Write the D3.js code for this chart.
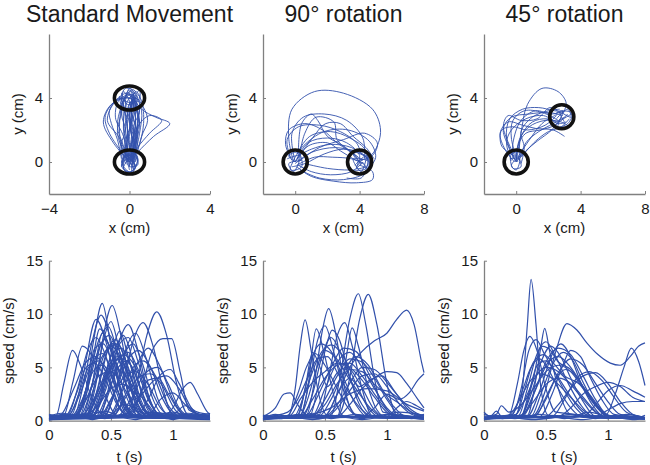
<!DOCTYPE html>
<html>
<head>
<meta charset="utf-8">
<script src="https://d3js.org/d3.v7.min.js"></script>
<style>
  body { margin: 0; background: #fff; }
  text { font-family: "Liberation Sans", Arial, sans-serif; fill: #1a1a1a; }
</style>
</head>
<body>
<script>
// Panel titles and tick labels
var panelTitles = ["Standard Movement", "90\u00b0 rotation", "45\u00b0 rotation"];
var topXDomains = [[-4, 4], [-2, 8], [-2, 8]];
var topXTicks = [[-4, 0, 4], [0, 4, 8], [0, 4, 8]];
var topYTicks = [0, 4];
var speedXTicks = [0, 0.5, 1];
var speedYTicks = [0, 5, 10, 15];

// Start and target circles (cm), radius 0.75 cm
var circleCenters = [
  [[0, 0], [0, 4]],
  [[0, 0], [4, 0]],
  [[0, 0], [2.83, 2.83]]
];
var circleRadius = 0.75;

// Hand trajectories, [x, y] in cm
var stdPaths = [
  [[0,0],[-0.2,1],[-0.3,2.5],[-0.1,3.8],[0.1,4.1],[0.3,3],[0.2,1.5],[0.05,0.1]],
  [[0.1,-0.2],[0.3,1.2],[0.4,2.8],[0.2,4.2],[-0.2,4.0],[-0.3,2.5],[-0.1,0.8],[0,-0.3]],
  [[0,0],[-0.8,1.2],[-1.3,2.5],[-0.9,3.6],[0,4],[0.4,3.2],[0.3,1.5],[0.1,0.2]],
  [[0,0.2],[0.3,1.5],[0.2,3.6],[0,4.3],[0.6,3.3],[1.3,2.8],[2.0,2.4],[1.2,1.6],[0.4,0.6],[0,0]],
  [[-0.1,0],[-0.5,1.5],[-1.1,2.6],[-0.7,3.8],[-0.1,4.3],[0.2,3.5],[0,2],[-0.2,0.5],[-0.1,-0.2]],
  [[0.2,0],[0.5,1.8],[0.6,3.2],[0.3,4.0],[0,3.6],[-0.1,2.0],[0.1,0.3]],
  [[0,-0.5],[-0.3,1],[-0.6,2.2],[-0.4,3.5],[0,4.5],[0.2,4.0],[0.5,2.5],[0.3,1],[0.1,-0.4]],
  [[-0.2,0.1],[0,1.6],[0.1,3],[0.4,4.2],[0.6,3.8],[0.7,2.4],[0.4,0.8],[-0.1,0]],
  [[0.1,0.3],[-0.1,2],[-0.3,3.6],[-0.5,4.1],[-0.4,3.2],[-0.6,1.8],[-0.2,0.5],[0.2,0]],
  [[0,0],[-1.0,1.8],[-1.2,2.9],[-0.6,3.9],[0.1,3.9],[-0.2,2.6],[-0.1,1.0],[0,-0.3]],
  [[0.3,0.1],[0.6,1.6],[0.9,2.6],[0.7,3.4],[0.3,4],[0.0,3.2],[0.2,1.8],[0.3,0.5]],
  [[-0.3,-0.2],[-0.2,1.3],[0.1,2.6],[0,3.8],[-0.3,4.4],[-0.4,3.6],[-0.5,2.2],[-0.4,0.6],[-0.3,-0.4]],
  [[0.1,-0.6],[0.2,1.0],[0.0,2.5],[0.2,3.9],[0.5,4.5],[0.5,3.5],[0.4,2.0],[0.3,0.6],[0.2,-0.5]],
  [[0,0.4],[0.4,2.2],[1.0,2.9],[1.6,2.6],[1.0,1.8],[0.4,0.9],[0,0]],
  [[-0.4,0.2],[-0.6,1.4],[-0.9,2.4],[-1.0,3.2],[-0.5,4.0],[-0.2,3.0],[-0.1,1.5],[-0.3,0.1]],
  [[0.2,0.2],[0.1,1.2],[0.3,2.2],[0.1,3.2],[0.2,4.3],[0.0,4.6],[-0.2,3.8],[0,2.4],[0.2,0.8],[0.2,0]],
  [[-0.2,-0.1],[-0.4,1.1],[-0.2,2.0],[-0.4,3.0],[-0.2,4.1],[0.1,4.4],[0.3,3.4],[0.1,2.2],[0.3,1.0],[0,-0.2]],
  [[0.4,0],[0.2,1.4],[0.5,2.4],[0.3,3.5],[0.5,4.1],[0.3,4.4],[0.1,3.1],[0.4,1.7],[0.1,0.5],[0.3,-0.3]],
  [[-0.1,0.2],[-0.3,1.6],[-0.7,2.8],[-0.5,3.9],[0.1,4.2],[0.0,3.0],[0.1,1.6],[-0.1,0.3]],
  [[0.1,0],[0.4,1.2],[0.2,2.2],[0.5,3.2],[0.2,3.9],[-0.1,3.3],[0.2,2.0],[0,0.6],[0.1,-0.2]],
  [[0,0],[0.2,-0.5],[-0.2,-0.6],[-0.3,0.2],[0.3,0.5],[0.4,-0.2],[0,-0.3]],
  [[-0.4,-0.3],[-0.2,0.4],[0.4,0.2],[0.1,-0.6],[-0.3,-0.4],[0.2,0.6]],
  [[0.3,-0.4],[-0.1,0.5],[-0.4,0],[0.1,-0.7],[0.4,0.3],[0,0.7]],
  [[-0.2,0.3],[0.3,-0.2],[0,-0.7],[-0.4,-0.2],[0.2,0.4],[0.3,0]],
  [[0,4],[0.3,4.4],[-0.2,4.6],[-0.4,4.0],[0.2,3.7],[0.4,4.1]],
  [[-0.3,3.8],[0.1,4.5],[0.4,3.9],[-0.1,3.6],[-0.4,4.3]]
];

var rot90Paths = [
  [[-0.1,0],[-0.4,1.5],[-0.2,3.3],[1.2,4.4],[3.0,4.3],[4.8,3.3],[5.3,2.0],[5.0,0.8],[4.4,0.1]],
  [[0,0],[-0.2,1.8],[0.5,2.8],[1.8,3.0],[3.2,2.6],[4.2,1.5],[4.3,0.2]],
  [[0.1,0.2],[0.8,1.2],[2.0,1.5],[3.2,1.2],[4.0,0.4],[3.8,-0.3]],
  [[4.2,0],[3.5,-0.6],[2.2,-0.8],[1.0,-0.6],[0.2,-0.2]],
  [[0,-0.1],[1.0,0.6],[2.5,0.9],[3.8,0.6],[4.6,0.1],[4.3,-0.7],[3.0,-1.1],[1.5,-1.0],[0.3,-0.5]],
  [[-0.3,0.3],[-0.5,1.4],[0.2,2.2],[1.5,2.3],[2.8,1.9],[3.8,1.2],[4.1,0.5]],
  [[0.2,0],[0.6,1.8],[1.3,2.8],[2.4,2.5],[2.6,1.4],[3.5,0.6],[4.2,0.1]],
  [[0,0.3],[0.5,1.0],[1.8,1.9],[3.3,2.0],[4.6,1.3],[5.0,0.3],[4.5,-0.5]],
  [[4.0,-0.2],[4.8,-0.6],[4.8,-1.1],[3.8,-1.3],[2.4,-1.2],[1.0,-0.9],[0.1,-0.3]],
  [[0.1,-0.2],[1.2,0.3],[2.3,0.3],[3.5,0.2],[4.3,-0.1]],
  [[-0.2,0.1],[-0.6,1.1],[-0.4,2.0],[0.6,2.4],[1.7,2.0],[2.6,1.2],[3.7,0.4],[4.1,-0.2]],
  [[0,0],[1.0,1.4],[1.9,2.4],[2.8,2.4],[3.6,1.6],[4.4,0.9],[4.9,0.2]],
  [[0.3,0.1],[1.5,0.9],[3.0,1.4],[4.3,1.8],[5.1,1.2],[4.8,0.4],[4.0,0.1]],
  [[4.4,0.3],[3.5,0.9],[2.2,1.1],[1.0,0.8],[0.2,0.4]],
  [[0.2,0.4],[0.4,2.4],[1.0,3.0],[1.4,2.6],[2.0,1.6],[3.0,1.0],[3.9,0.3]],
  [[0,0],[0.8,1.0],[2.0,1.2],[2.8,0.7],[3.6,0.2],[4.4,-0.3],[4.1,-1.0],[3.2,-1.0]],
  [[-0.2,-0.3],[0.6,-0.1],[1.8,0.5],[3.0,0.8],[4.2,0.5],[4.7,-0.2]],
  [[0.1,0.5],[0.9,1.6],[2.2,1.9],[3.4,1.5],[4.4,0.7],[4.4,-0.4],[3.4,-0.5],[2.0,-0.4],[0.6,-0.1]],
  [[0,0],[-0.4,0.4],[0.2,0.6],[0.4,-0.3],[-0.3,-0.5],[0,0.3]],
  [[-0.5,0.2],[0.3,0.4],[-0.1,-0.6],[-0.4,-0.1],[0.4,0.1]],
  [[4,0],[3.6,0.5],[4.3,0.6],[4.5,-0.2],[3.8,-0.4],[4.2,0.2]],
  [[3.7,-0.2],[4.4,0.4],[4.1,-0.6],[3.6,0.2],[4.5,0.1]]
];

var rot45Paths = [
  [[0,0],[0.3,1.8],[0.7,3.6],[1.6,4.6],[2.6,4.4],[3.1,3.7],[2.9,3.0]],
  [[0,0],[-0.5,1.0],[-0.8,2.1],[-0.3,2.8],[0.8,3.0],[2.0,3.1],[2.9,2.9]],
  [[0.1,0],[-0.3,1.5],[-0.2,2.6],[0.5,3.2],[1.6,3.1],[2.6,2.6]],
  [[0,0.2],[0.2,1.4],[0.8,2.2],[1.8,2.6],[2.8,2.5],[3.3,2.2]],
  [[-0.1,0],[-0.7,0.8],[-1.0,1.8],[-0.5,2.5],[0.4,2.3],[1.2,2.1],[2.3,2.0],[3.0,1.6]],
  [[0.2,0.1],[0.6,1.2],[1.4,1.9],[2.3,2.4],[3.0,2.8]],
  [[2.8,2.8],[2.2,2.0],[1.3,1.3],[0.6,0.7],[0.1,0.1]],
  [[0,0],[-0.6,1.5],[-0.4,2.7],[0.4,3.3],[1.4,3.4],[2.4,3.2],[3.4,3.1],[3.5,2.6]],
  [[0.3,-0.1],[0.5,0.9],[0.3,1.9],[1.0,2.8],[2.0,3.2],[2.7,3.3]],
  [[0,0.3],[-0.9,1.0],[-0.9,2.0],[-0.2,2.2],[0.7,2.0],[1.8,2.3],[2.5,2.9]],
  [[-0.2,0.2],[-0.2,1.2],[0.3,2.6],[1.2,3.2],[2.2,3.0],[3.0,3.2]],
  [[0.1,0.3],[0.9,1.5],[1.6,2.4],[2.2,2.8],[2.6,3.0]],
  [[-0.1,0.4],[-0.8,2.2],[-0.5,2.9],[0.3,2.6],[1.3,2.7],[2.1,3.4],[2.8,3.0]],
  [[0.3,0.3],[1.2,1.3],[2.0,1.9],[2.8,2.2],[3.3,2.7]],
  [[0,0.1],[0.1,1.0],[0.6,1.8],[1.5,2.0],[2.4,2.3],[3.2,3.0]],
  [[-0.3,0.1],[-0.6,1.2],[-0.3,2.0],[0.6,2.7],[1.7,2.9],[2.6,2.4],[3.1,2.5]],
  [[0.2,0.4],[0.3,1.6],[1.0,2.5],[1.9,2.7],[2.5,2.5]],
  [[2.8,2.6],[3.5,3.0],[3.2,2.4],[2.6,2.2],[2.9,3.2],[2.4,3.0]],
  [[2.5,2.7],[3.2,3.3],[3.4,2.8],[2.7,3.1],[3.0,2.5]],
  [[0,0],[0.3,0.6],[-0.3,0.5],[-0.2,-0.4],[0.3,-0.3],[0.1,0.4]],
  [[-0.4,0.2],[0.2,0.2],[0,-0.5],[-0.3,-0.2],[0.4,0.5]]
];

// Speed profiles, [t (s), speed (cm/s)]
var stdSpeeds = [
  [[0,0.3],[0.22,0.3],[0.3,3],[0.36,7.5],[0.43,11.0],[0.5,7],[0.58,2.5],[0.68,0.4],[1.3,0.3]],
  [[0,0.2],[0.3,0.5],[0.38,3.5],[0.44,8],[0.51,10.8],[0.58,8],[0.66,3],[0.75,0.5],[1.3,0.2]],
  [[0,0.1],[0.2,0.4],[0.28,3.5],[0.35,7.5],[0.42,9.9],[0.5,7.5],[0.58,3],[0.68,0.5],[1.3,0.1]],
  [[0,0.3],[0.18,0.5],[0.27,4],[0.38,9.5],[0.47,7],[0.55,3],[0.65,0.6],[1.3,0.3]],
  [[0,0.1],[0.6,0.3],[0.7,3],[0.79,8],[0.87,10.2],[0.95,8],[1.03,3.5],[1.12,0.6],[1.3,0.3]],
  [[0,0.2],[0.5,0.4],[0.6,3.5],[0.68,7.5],[0.76,9.2],[0.84,7],[0.92,3],[1.0,0.5],[1.3,0.2]],
  [[0,0.2],[0.4,0.3],[0.5,4],[0.57,7.5],[0.64,9.0],[0.72,6.5],[0.8,2.5],[0.9,0.4],[1.3,0.2]],
  [[0,0.3],[0.65,0.4],[0.75,3],[0.83,6.5],[0.92,7.7],[0.99,7.7],[1.06,4.5],[1.13,1],[1.3,0.3]],
  [[0,0.2],[0.9,0.3],[1.0,1.2],[1.08,3],[1.14,3.6],[1.2,2.5],[1.28,0.8],[1.3,0.6]],
  [[0,0.2],[0.06,0.5],[0.12,3.5],[0.19,6.6],[0.26,5],[0.35,2],[0.45,0.4],[1.3,0.2]],
  [[0,0.3],[0.12,0.5],[0.19,3.5],[0.27,7.0],[0.35,6],[0.45,2.5],[0.55,0.5],[1.3,0.3]],
  [[0,0.2],[0.25,0.5],[0.33,4],[0.41,8.6],[0.5,6.5],[0.6,2],[0.7,0.4],[1.3,0.2]],
  [[0,0.3],[0.35,0.4],[0.44,3.5],[0.52,7],[0.57,8.4],[0.64,6],[0.73,2],[0.82,0.4],[1.3,0.3]],
  [[0,0.2],[0.45,0.5],[0.55,3.5],[0.63,7],[0.7,8.2],[0.78,6],[0.88,2],[0.98,0.4],[1.3,0.2]],
  [[0,0.2],[0.2,0.4],[0.3,3],[0.4,7.5],[0.48,8.8],[0.56,6],[0.66,2],[0.76,0.3],[1.3,0.2]],
  [[0,0.3],[0.28,0.5],[0.36,3],[0.46,6.5],[0.55,7.2],[0.64,5],[0.74,1.5],[0.84,0.4],[1.3,0.3]],
  [[0,0.2],[0.15,0.4],[0.25,2.5],[0.35,5.5],[0.43,6.3],[0.52,4],[0.62,1],[0.72,0.3],[1.3,0.2]],
  [[0,0.4],[0.3,0.6],[0.4,2.5],[0.5,5],[0.6,6.2],[0.7,5],[0.8,2],[0.9,0.5],[1.3,0.3]],
  [[0,0.2],[0.5,0.3],[0.62,2.5],[0.72,5.5],[0.8,6.8],[0.9,5],[1.0,2],[1.1,0.5],[1.3,0.3]],
  [[0,0.3],[0.7,0.4],[0.8,2],[0.9,4.3],[0.98,4.8],[1.05,3.5],[1.15,1.2],[1.22,0.4],[1.3,0.3]],
  [[0,0.2],[0.32,0.4],[0.42,3],[0.5,6],[0.58,6.8],[0.66,5.2],[0.74,2],[0.84,0.4],[1.3,0.2]],
  [[0,0.3],[0.22,0.5],[0.3,2.5],[0.38,6],[0.45,7.6],[0.53,5.8],[0.62,2.4],[0.72,0.5],[1.3,0.3]],
  [[0,0.2],[0.38,0.4],[0.47,2.5],[0.56,5],[0.63,5.6],[0.71,4],[0.8,1.2],[0.9,0.3],[1.3,0.2]],
  [[0,0.3],[0.42,0.4],[0.52,2.5],[0.62,5.4],[0.72,6.6],[0.82,5],[0.92,2],[1.02,0.5],[1.3,0.3]],
  [[0,0.2],[0.18,0.4],[0.27,2],[0.35,4.5],[0.42,5.2],[0.5,3.5],[0.58,1],[0.66,0.3],[1.3,0.2]],
  [[0,0.3],[0.26,0.4],[0.36,2],[0.46,4.2],[0.56,4.8],[0.66,3.5],[0.76,1.2],[0.86,0.4],[1.3,0.3]],
  [[0,0.2],[0.55,0.4],[0.66,2],[0.78,4.5],[0.88,5.0],[0.96,3.5],[1.05,1.2],[1.14,0.4],[1.3,0.2]],
  [[0,0.3],[0.3,0.5],[0.38,4],[0.45,8],[0.5,9.3],[0.56,7],[0.64,2.5],[0.72,0.4],[1.3,0.3]],
  [[0,0.2],[0.35,0.4],[0.45,3],[0.53,6.5],[0.6,8],[0.67,6],[0.76,2],[0.85,0.4],[1.3,0.2]],
  [[0,0.3],[0.15,0.5],[0.23,3],[0.31,6.5],[0.38,7.8],[0.46,6],[0.55,2.5],[0.64,0.5],[1.3,0.3]],
  [[0,0.2],[0.48,0.4],[0.58,2.5],[0.68,5],[0.76,5.6],[0.86,4.2],[0.96,1.5],[1.06,0.4],[1.3,0.2]],
  [[0,0.3],[0.6,0.5],[0.72,2],[0.85,3.8],[0.95,4.2],[1.05,3],[1.15,1],[1.25,0.5],[1.3,0.4]],
  [[0,0.2],[0.2,0.4],[0.32,2.5],[0.42,5.8],[0.5,7.0],[0.6,5.5],[0.7,3],[0.8,1.5],[0.9,0.3],[1.3,0.2]],
  [[0,0.4],[0.25,0.5],[0.35,3.5],[0.43,8.2],[0.52,6],[0.62,3.5],[0.7,2.5],[0.8,0.6],[1.3,0.4]],
  [[0,0.2],[0.4,0.3],[0.5,2],[0.6,4],[0.7,4.6],[0.8,3.4],[0.9,1.2],[1.0,0.3],[1.3,0.2]],
  [[0,0.3],[0.8,0.5],[0.9,2],[1.0,2.6],[1.1,1.5],[1.2,0.6],[1.3,0.5]],
  [[0,0.2],[0.1,0.6],[0.2,3],[0.3,5.5],[0.38,6],[0.46,4.5],[0.56,1.5],[0.66,0.3],[1.3,0.2]],
  [[0,0.3],[0.35,0.5],[0.46,3],[0.56,7],[0.64,7.8],[0.72,5.5],[0.82,1.8],[0.92,0.3],[1.3,0.3]],
  [[0,0.5],[0.3,0.6],[0.4,1.5],[0.5,3],[0.6,3.4],[0.7,2.2],[0.8,0.8],[1.3,0.5]],
  [[0,0.1],[0.5,0.6],[0.6,1.5],[0.7,1.2],[0.8,0.4],[1.0,0.6],[1.1,1.4],[1.2,0.8],[1.3,0.6]],
  [[0,0.4],[0.16,0.5],[0.24,2.5],[0.32,5],[0.4,5.6],[0.48,4.6],[0.58,2.2],[0.68,0.5],[1.3,0.4]],
  [[0,0.2],[0.3,0.3],[0.4,2.8],[0.48,5.2],[0.55,5.8],[0.62,4.2],[0.72,1.2],[0.82,0.3],[1.3,0.2]],
  [[0,0.3],[0.3,0.4],[0.38,2.5],[0.46,6.2],[0.53,7.3],[0.6,5.5],[0.7,2],[0.8,0.4],[1.3,0.3]],
  [[0,0.2],[0.22,0.4],[0.3,3],[0.37,6.8],[0.44,7.2],[0.52,5],[0.62,1.6],[0.72,0.3],[1.3,0.2]],
  [[0,0.4],[0.4,0.5],[0.48,2.5],[0.56,5.5],[0.64,6.4],[0.72,4.8],[0.82,1.6],[0.92,0.4],[1.3,0.3]],
  [[0,0.2],[0.27,0.4],[0.35,3.5],[0.42,7.2],[0.49,8.0],[0.56,6],[0.65,2.4],[0.75,0.5],[1.3,0.2]],
  [[0,0.3],[0.33,0.5],[0.42,2.5],[0.5,5],[0.58,5.8],[0.66,5.2],[0.74,3],[0.84,0.8],[1.3,0.3]],
  [[0,0.2],[0.14,0.5],[0.22,2.5],[0.3,5],[0.37,5.4],[0.45,4],[0.55,1.5],[0.65,0.3],[1.3,0.2]],
  [[0,0.3],[0.44,0.4],[0.54,3],[0.62,6.5],[0.68,7.2],[0.75,5.5],[0.84,2],[0.94,0.4],[1.3,0.3]],
  [[0,0.2],[0.36,0.4],[0.44,3],[0.5,5.5],[0.56,6],[0.63,4.4],[0.72,1.4],[0.82,0.3],[1.3,0.2]],
  [[0,0.3],[0.52,0.5],[0.62,2.2],[0.72,4],[0.82,4.4],[0.92,3.2],[1.02,1],[1.12,0.3],[1.3,0.3]],
  [[0,0.2],[0.3,0.5],[0.4,3.2],[0.48,6.8],[0.54,7.6],[0.6,6.2],[0.68,3.4],[0.78,0.8],[1.3,0.2]],
  [[0,0.3],[0.2,0.5],[0.3,2],[0.4,4.2],[0.5,4.6],[0.6,3.2],[0.7,1],[0.8,0.3],[1.3,0.3]],
  [[0,0.2],[0.62,0.4],[0.72,2],[0.8,3.8],[0.88,4],[0.96,2.6],[1.06,0.8],[1.16,0.3],[1.3,0.2]],
  [[0,0.6],[0.15,0.3],[0.3,0.7],[0.45,0.2],[0.6,0.6],[0.75,0.2],[0.9,0.7],[1.05,0.3],[1.2,0.6],[1.3,0.4]],
  [[0,0.1],[0.2,0.5],[0.35,0.1],[0.5,0.5],[0.7,0.1],[0.85,0.5],[1.0,0.1],[1.15,0.5],[1.3,0.2]],
  [[0,0.4],[0.1,0.7],[0.25,0.5],[0.4,0.8],[0.55,0.4],[0.7,0.9],[0.85,0.5],[1.0,0.8],[1.15,0.4],[1.3,0.7]],
  [[0,0.2],[0.12,0.6],[0.28,0.3],[0.45,0.9],[0.6,0.3],[0.78,0.7],[0.95,0.2],[1.12,0.7],[1.3,0.3]]
];

var rot90Speeds = [
  [[0,0.3],[0.2,0.4],[0.26,3],[0.3,7],[0.34,9.45],[0.39,6.5],[0.45,2.5],[0.52,0.5],[1.3,0.3]],
  [[0,0.2],[0.35,0.5],[0.42,4],[0.48,8.5],[0.53,10.5],[0.59,8],[0.66,3],[0.74,0.6],[1.3,0.2]],
  [[0,0.3],[0.55,0.5],[0.62,4],[0.7,9.5],[0.77,11.9],[0.83,9],[0.9,4],[0.97,0.8],[1.3,0.3]],
  [[0,0.2],[0.6,0.4],[0.7,4],[0.78,9.5],[0.85,11.85],[0.92,9],[1.0,3.5],[1.08,0.5],[1.3,0.2]],
  [[0,0.3],[0.5,0.5],[0.6,2.5],[0.7,5],[0.8,6.5],[0.9,7.5],[1.0,8.2],[1.08,9.5],[1.16,10.37],[1.22,9],[1.28,5.5],[1.3,4.5]],
  [[0,0.2],[0.3,0.4],[0.36,3],[0.43,8.6],[0.5,6],[0.58,2],[0.66,0.4],[1.3,0.2]],
  [[0,0.3],[0.45,0.5],[0.52,3.5],[0.6,8],[0.66,9.2],[0.72,7],[0.8,3],[0.88,0.5],[1.3,0.3]],
  [[0,0.2],[0.3,0.5],[0.38,4],[0.44,7.5],[0.5,8.9],[0.57,6.5],[0.66,2.5],[0.76,0.5],[1.3,0.2]],
  [[0,0.4],[0.1,1.2],[0.17,2.5],[0.22,2.6],[0.28,1.5],[0.36,0.5],[1.3,0.3]],
  [[0,0.2],[0.25,0.4],[0.35,3],[0.45,6],[0.55,7.1],[0.65,6],[0.75,3.5],[0.85,1.2],[0.95,0.3],[1.3,0.2]],
  [[0,0.3],[0.35,0.5],[0.45,2.5],[0.55,5],[0.65,6.8],[0.75,6.5],[0.85,4.5],[0.95,2],[1.05,0.5],[1.3,0.3]],
  [[0,0.2],[0.4,0.4],[0.5,2],[0.6,4.2],[0.7,5.8],[0.8,5.5],[0.9,4],[1.0,2],[1.1,0.6],[1.3,0.3]],
  [[0,0.3],[0.3,0.4],[0.4,2],[0.5,4],[0.6,5.2],[0.7,5.4],[0.8,4.2],[0.9,2.5],[1.0,1],[1.1,0.3],[1.3,0.2]],
  [[0,0.2],[0.5,0.4],[0.6,1.5],[0.7,3.5],[0.8,5],[0.9,4.8],[1.0,3.6],[1.1,2.2],[1.2,1],[1.3,0.4]],
  [[0,0.3],[0.28,0.6],[0.34,3],[0.4,6],[0.47,7.2],[0.55,6.5],[0.65,4],[0.75,1.5],[0.85,0.3],[1.3,0.2]],
  [[0,0.2],[0.2,0.5],[0.28,2.5],[0.35,5],[0.42,6.3],[0.5,5.2],[0.6,3],[0.7,1],[0.8,0.3],[1.3,0.2]],
  [[0,0.3],[0.4,0.5],[0.5,3],[0.6,5.5],[0.7,6.4],[0.8,5],[0.9,3],[1.0,1.2],[1.1,0.4],[1.3,0.3]],
  [[0,0.2],[0.6,0.4],[0.7,1.5],[0.8,3],[0.9,4],[1.0,4.6],[1.08,4.5],[1.16,3.5],[1.25,2],[1.3,1.2]],
  [[0,0.3],[0.8,0.4],[0.9,1.2],[1.0,2.5],[1.1,2.0],[1.18,2.6],[1.25,3.8],[1.3,4.4]],
  [[0,0.2],[0.32,0.4],[0.4,2.5],[0.48,6.2],[0.55,7.8],[0.62,6.5],[0.7,4],[0.8,1.5],[0.9,0.3],[1.3,0.2]],
  [[0,0.3],[0.22,0.5],[0.3,2],[0.4,3.6],[0.5,4.6],[0.6,5.4],[0.7,5],[0.8,3.8],[0.9,2.2],[1.0,0.8],[1.1,0.3],[1.3,0.2]],
  [[0,0.2],[0.45,0.4],[0.55,2],[0.65,4.5],[0.75,6],[0.85,5.2],[0.95,3.2],[1.05,1.4],[1.15,0.4],[1.3,0.3]],
  [[0,0.3],[0.3,0.5],[0.36,2],[0.43,4.8],[0.5,6.6],[0.58,6],[0.68,4.2],[0.78,2.5],[0.88,1],[0.98,0.3],[1.3,0.2]],
  [[0,0.2],[0.5,0.3],[0.6,1.2],[0.7,2.8],[0.8,4.2],[0.9,4.4],[1.0,3.2],[1.1,1.6],[1.2,0.6],[1.3,0.3]],
  [[0,0.4],[0.4,0.5],[0.5,1.5],[0.6,3.5],[0.7,4.8],[0.8,4.6],[0.9,3.4],[1.0,2.4],[1.1,1.6],[1.2,0.8],[1.3,0.4]],
  [[0,0.2],[0.38,0.5],[0.44,3],[0.5,6.5],[0.56,8.5],[0.62,7.5],[0.68,5],[0.76,2],[0.86,0.4],[1.3,0.2]],
  [[0,0.3],[0.6,0.4],[0.62,1],[0.64,3],[0.68,6.5],[0.72,8.7],[0.77,7],[0.84,3.5],[0.92,1],[1.0,0.3],[1.3,0.2]],
  [[0,0.2],[1.0,0.4],[1.08,1.2],[1.16,1.8],[1.24,1.4],[1.3,1.0]],
  [[0,0.3],[0.2,0.8],[0.28,2],[0.36,4],[0.44,5.8],[0.52,6],[0.6,4.5],[0.7,2.5],[0.8,1],[0.9,0.3],[1.3,0.2]],
  [[0,0.2],[0.5,0.4],[0.6,2.5],[0.7,4],[0.78,3.2],[0.86,3.8],[0.96,4.2],[1.06,2.8],[1.16,1.2],[1.26,0.4],[1.3,0.3]],
  [[0,0.5],[0.2,0.4],[0.4,0.6],[0.55,1.2],[0.7,2.5],[0.85,3],[1.0,2.8],[1.15,1.6],[1.3,0.9]],
  [[0,0.1],[0.28,0.4],[0.34,3],[0.4,6.4],[0.46,5],[0.52,3.2],[0.6,4.5],[0.68,5],[0.78,3.5],[0.9,1],[1.0,0.3],[1.3,0.2]],
  [[0,0.5],[0.15,0.2],[0.3,0.6],[0.45,0.2],[0.6,0.5],[0.8,0.2],[1.0,0.6],[1.15,0.3],[1.3,0.6]],
  [[0,0.2],[0.1,0.6],[0.25,0.3],[0.4,0.7],[0.55,0.2],[0.75,0.6],[0.9,0.3],[1.1,0.8],[1.3,0.5]],
  [[0,0.1],[0.2,0.4],[0.4,0.1],[0.6,0.4],[0.8,0.1],[1.0,0.4],[1.2,0.2],[1.3,0.3]]
];

var rot45Speeds = [
  [[0,0.3],[0.25,0.5],[0.31,3],[0.35,9],[0.38,13.25],[0.42,9],[0.46,3],[0.52,0.5],[1.3,0.3]],
  [[0,0.2],[0.2,0.5],[0.27,3.5],[0.32,6.5],[0.37,7.9],[0.43,6.5],[0.5,3],[0.58,0.8],[1.3,0.2]],
  [[0,0.3],[0.35,0.5],[0.42,4],[0.46,7],[0.49,8.66],[0.53,6.5],[0.6,3],[0.7,0.6],[1.3,0.3]],
  [[0,0.2],[0.4,0.5],[0.5,3],[0.58,6.5],[0.67,9.1],[0.75,8.5],[0.83,7.3],[0.92,6.2],[1.02,5.4],[1.1,5.2],[1.18,6],[1.25,7],[1.3,7.3]],
  [[0,0.3],[0.7,0.4],[0.85,0.8],[0.98,0.5],[1.06,2.5],[1.13,5],[1.19,6.8],[1.25,5.5],[1.3,3.3]],
  [[0,0.2],[0.28,0.5],[0.35,3],[0.42,6],[0.5,7.4],[0.58,6],[0.68,3.5],[0.78,1.5],[0.88,0.4],[1.3,0.2]],
  [[0,0.3],[0.3,0.4],[0.4,2.5],[0.5,5.5],[0.6,6.8],[0.7,6.2],[0.8,4.2],[0.9,2],[1.0,0.5],[1.3,0.3]],
  [[0,0.2],[0.4,0.4],[0.5,2],[0.6,4.5],[0.7,5.8],[0.8,5.2],[0.9,3.5],[1.0,1.8],[1.1,0.6],[1.3,0.3]],
  [[0,0.3],[0.22,0.5],[0.3,2.5],[0.38,5],[0.45,5.8],[0.52,4.8],[0.6,3],[0.7,1.2],[0.8,0.3],[1.3,0.2]],
  [[0,0.2],[0.32,0.5],[0.42,3],[0.52,5.5],[0.6,6],[0.7,5],[0.8,3.2],[0.9,1.5],[1.0,0.4],[1.3,0.2]],
  [[0,0.3],[0.45,0.4],[0.55,2.5],[0.63,5],[0.7,6.6],[0.78,6],[0.86,4],[0.95,2],[1.05,0.6],[1.3,0.3]],
  [[0,0.2],[0.5,0.4],[0.6,1.5],[0.7,3],[0.8,4.2],[0.9,4.5],[1.0,3.5],[1.1,1.8],[1.2,0.6],[1.3,0.3]],
  [[0,0.3],[0.25,0.5],[0.33,2],[0.42,4.2],[0.5,5],[0.6,4.6],[0.7,3.4],[0.8,2],[0.9,0.8],[1.0,0.3],[1.3,0.2]],
  [[0,0.2],[0.6,0.4],[0.7,1.2],[0.8,2.5],[0.9,3.2],[1.0,3.6],[1.1,3.2],[1.2,2.2],[1.3,1.8]],
  [[0,0.3],[0.3,0.5],[0.38,2.5],[0.46,5.5],[0.54,7.0],[0.62,6],[0.7,4],[0.8,1.8],[0.9,0.4],[1.3,0.2]],
  [[0,0.2],[0.38,0.4],[0.46,2.5],[0.55,5.2],[0.64,6.4],[0.72,5.6],[0.8,3.6],[0.9,1.5],[1.0,0.4],[1.3,0.2]],
  [[0,0.8],[0.05,0.4],[0.1,0.9],[0.15,0.3],[0.3,0.5],[0.4,1.8],[0.5,3.4],[0.6,4],[0.7,3.5],[0.8,2.2],[0.9,0.9],[1.0,0.3],[1.3,0.2]],
  [[0,0.3],[0.26,0.6],[0.33,3],[0.4,5.5],[0.48,6.2],[0.56,5.4],[0.65,4.2],[0.75,3.6],[0.85,2.5],[0.95,1],[1.05,0.3],[1.3,0.2]],
  [[0,0.2],[0.55,0.4],[0.65,2],[0.75,4],[0.85,4.6],[0.95,3.8],[1.05,2.2],[1.15,0.8],[1.3,0.3]],
  [[0,0.3],[0.2,0.5],[0.28,1.8],[0.36,3.5],[0.44,4.4],[0.52,4.2],[0.6,3.4],[0.7,2.2],[0.8,1],[0.9,0.3],[1.3,0.2]],
  [[0,0.2],[0.35,0.4],[0.45,2.8],[0.55,6.2],[0.62,7.2],[0.7,6],[0.78,3.6],[0.88,1.4],[0.98,0.3],[1.3,0.2]],
  [[0,0.3],[0.8,0.4],[0.9,1.5],[1.0,2.8],[1.1,3.3],[1.2,2.8],[1.3,2.2]],
  [[0,0.4],[0.1,0.6],[0.14,1.4],[0.2,0.8],[0.3,1.5],[0.4,3],[0.5,4.6],[0.6,5.2],[0.7,4.6],[0.8,3],[0.9,1.4],[1.0,0.4],[1.3,0.3]],
  [[0,0.2],[0.42,0.5],[0.5,2.2],[0.58,4],[0.66,4.8],[0.74,4.2],[0.82,2.8],[0.92,1.2],[1.02,0.3],[1.3,0.2]],
  [[0,0.3],[0.3,0.5],[0.4,4],[0.46,7],[0.52,6.8],[0.6,5.5],[0.7,4.8],[0.8,3.2],[0.9,1.6],[1.0,0.5],[1.3,0.3]],
  [[0,0.2],[0.9,0.4],[1.0,1],[1.1,1.6],[1.2,1.8],[1.3,1.8]],
  [[0,0.3],[0.23,0.6],[0.3,3],[0.36,6.5],[0.42,7.6],[0.49,6.2],[0.56,4.8],[0.64,3],[0.74,1.2],[0.84,0.3],[1.3,0.2]],
  [[0,0.2],[0.3,0.4],[0.36,2.5],[0.43,5.2],[0.5,5.6],[0.58,4.4],[0.68,2.6],[0.78,1],[0.88,0.3],[1.3,0.2]],
  [[0,0.6],[0.15,0.2],[0.3,0.5],[0.5,0.2],[0.7,0.6],[0.9,0.2],[1.05,0.5],[1.2,0.2],[1.3,0.5]],
  [[0,0.2],[0.1,0.5],[0.25,0.2],[0.45,0.6],[0.65,0.2],[0.85,0.5],[1.0,0.2],[1.15,0.6],[1.3,0.3]],
  [[0,0.1],[0.2,0.3],[0.4,0.1],[0.6,0.3],[0.8,0.1],[1.0,0.4],[1.2,0.1],[1.3,0.2]]
];

var allPaths = [stdPaths, rot90Paths, rot45Paths];
var allSpeeds = [stdSpeeds, rot90Speeds, rot45Speeds];

// Layout
var svgWidth = 650;
var svgHeight = 465;
var panelLeft = [49, 263, 484];
var panelWidth = 161;
var topRange = [194, 34];
var bottomRange = [420.7, 260.7];
var lineColor = "#3150ab";
var axisColor = "#808080";
var tickFormat = d3.format("");

var svg = d3.select("body")
  .append("svg")
  .attr("width", svgWidth)
  .attr("height", svgHeight);

function styleAxis(g) {
  g.select(".domain").attr("stroke", axisColor).attr("stroke-width", 1.3);
  g.selectAll(".tick line").attr("stroke", axisColor);
  g.selectAll(".tick text")
    .attr("fill", "#1a1a1a")
    .style("font-size", "15px")
    .style("font-family", "'Liberation Sans', Arial, sans-serif");
}

panelLeft.forEach(function(left, i) {
  var cx = left + panelWidth / 2;

  // ---------- top row: trajectories ----------
  var xScale = d3.scaleLinear().domain(topXDomains[i]).range([left, left + panelWidth]);
  var yScale = d3.scaleLinear().domain([-2, 8]).range(topRange);

  svg.append("g")
    .attr("transform", `translate(0, ${topRange[0]})`)
    .call(d3.axisBottom(xScale).tickValues(topXTicks[i]).tickFormat(tickFormat)
      .tickSizeInner(-3).tickSizeOuter(0).tickPadding(9))
    .call(styleAxis);

  svg.append("g")
    .attr("transform", `translate(${left}, 0)`)
    .call(d3.axisLeft(yScale).tickValues(topYTicks).tickFormat(tickFormat)
      .tickSizeInner(-3).tickSizeOuter(0).tickPadding(6))
    .call(styleAxis);

  var pathLine = d3.line()
    .x(d => xScale(d[0]))
    .y(d => yScale(d[1]))
    .curve(d3.curveCatmullRom.alpha(0.5));

  svg.append("g").selectAll("path")
    .data(allPaths[i])
    .enter()
    .append("path")
    .attr("d", pathLine)
    .attr("fill", "none")
    .attr("stroke", lineColor)
    .attr("stroke-width", 0.9);

  svg.append("g").selectAll("ellipse")
    .data(circleCenters[i])
    .enter()
    .append("ellipse")
    .attr("cx", d => xScale(d[0]))
    .attr("cy", d => yScale(d[1]))
    .attr("rx", xScale(circleRadius) - xScale(0))
    .attr("ry", yScale(0) - yScale(circleRadius))
    .attr("fill", "none")
    .attr("stroke", "#111")
    .attr("stroke-width", 3.6);

  svg.append("text")
    .attr("x", cx)
    .attr("y", 22)
    .attr("text-anchor", "middle")
    .attr("font-size", "23px")
    .text(panelTitles[i]);

  svg.append("text")
    .attr("x", cx)
    .attr("y", 233)
    .attr("text-anchor", "middle")
    .attr("font-size", "15px")
    .text("x (cm)");

  svg.append("text")
    .attr("transform", `translate(${left - 26}, ${(topRange[0] + topRange[1]) / 2}) rotate(-90)`)
    .attr("text-anchor", "middle")
    .attr("font-size", "15px")
    .text("y (cm)");

  // ---------- bottom row: speed ----------
  var tScale = d3.scaleLinear().domain([0, 1.3]).range([left, left + panelWidth]);
  var vScale = d3.scaleLinear().domain([0, 15]).range(bottomRange);

  svg.append("g")
    .attr("transform", `translate(0, ${bottomRange[0]})`)
    .call(d3.axisBottom(tScale).tickValues(speedXTicks).tickFormat(tickFormat)
      .tickSizeInner(-3).tickSizeOuter(0).tickPadding(9))
    .call(styleAxis);

  svg.append("g")
    .attr("transform", `translate(${left}, 0)`)
    .call(d3.axisLeft(vScale).tickValues(speedYTicks).tickFormat(tickFormat)
      .tickSizeInner(-3).tickSizeOuter(0).tickPadding(6))
    .call(styleAxis);

  var speedLine = d3.line()
    .x(d => tScale(d[0]))
    .y(d => vScale(d[1]))
    .curve(d3.curveMonotoneX);

  svg.append("g").selectAll("path")
    .data(allSpeeds[i])
    .enter()
    .append("path")
    .attr("d", speedLine)
    .attr("fill", "none")
    .attr("stroke", lineColor)
    .attr("stroke-width", 1.2);

  svg.append("text")
    .attr("x", cx)
    .attr("y", 461.5)
    .attr("text-anchor", "middle")
    .attr("font-size", "15px")
    .text("t (s)");

  svg.append("text")
    .attr("transform", `translate(${left - 35}, ${(bottomRange[0] + bottomRange[1]) / 2}) rotate(-90)`)
    .attr("text-anchor", "middle")
    .attr("font-size", "15px")
    .text("speed (cm/s)");
});
</script>
</body>
</html>
